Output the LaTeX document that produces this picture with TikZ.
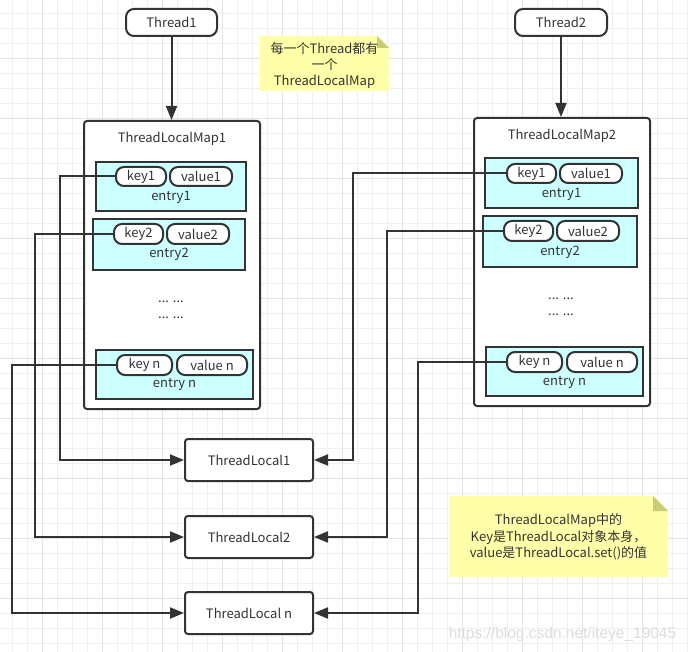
\documentclass[tikz,border=0pt]{standalone}
\usepackage{fontspec}
\setmainfont{Noto Sans CJK SC}
\newfontfamily\wmfont{Liberation Sans}
\usetikzlibrary{arrows.meta}
\definecolor{tlline}{HTML}{333333}
\definecolor{tlcyan}{HTML}{CCFFFF}
\definecolor{tlnote}{HTML}{FFFFAA}
\definecolor{tlfold}{HTML}{CCCC77}
\definecolor{tlgrid}{HTML}{EFEFEF}
\definecolor{tlgridb}{HTML}{E3E3E3}
\definecolor{tlwm}{HTML}{DDDDDD}

\begin{document}
\begin{tikzpicture}[x=1pt, y=-1pt,
  tltext/.style = {text=tlline, inner sep=0pt, font=\fontsize{13}{15}\selectfont},
  tlbox/.style = {tltext, draw=tlline, line width=2pt, fill=white, rounded corners=3pt},
  tlpill/.style = {tlbox, rounded corners=8pt},
  tlentry/.style = {draw=tlline, line width=2pt, fill=tlcyan, inner sep=0pt},
  tlarr/.style = {draw=tlline, line width=2pt, -{Triangle[length=14pt, width=11pt]}},
  tlgridline/.style = {tlgrid, line width=1pt}
]
  \useasboundingbox (0,0) rectangle (688,652);
  % grid
  \fill[white] (0,0) rectangle (688,652);
  \foreach \k in {0,...,45}
    \draw[tlgridline] (12.3+15*\k,0) -- (12.3+15*\k,652);
  \foreach \k in {0,...,42}
    \draw[tlgridline] (0,13.3+15*\k) -- (688,13.3+15*\k);
  \foreach \k in {0,...,10}
    \draw[tlgridline, tlgridb] (42.3+60*\k,0) -- (42.3+60*\k,652);
  \foreach \k in {0,...,9}
    \draw[tlgridline, tlgridb] (0,58.3+60*\k) -- (688,58.3+60*\k);

  % threads
  \node[tlpill, minimum width=91pt, minimum height=27pt] (thread1) at (171.5,22.5) {Thread1};
  \node[tlpill, minimum width=92pt, minimum height=27pt] (thread2) at (561,22.5) {Thread2};

  % ThreadLocalMap1
  \node[tlbox, minimum width=176pt, minimum height=288pt] (map1) at (172,265) {};
  \node[tltext] (map1title) at (172,138.5) {ThreadLocalMap1};
  \node[tlentry, minimum width=150pt, minimum height=49pt] (m1e1) at (171,186.5) {};
  \node[tlpill, minimum width=50pt, minimum height=19pt] (m1k1) at (141,176.5) {key1};
  \node[tlpill, minimum width=62pt, minimum height=19pt] (m1v1) at (201,176.5) {value1};
  \node[tltext] (m1e1lbl) at (171,197.5) {entry1};
  \node[tlentry, minimum width=152pt, minimum height=51pt] (m1e2) at (169,244.5) {};
  \node[tlpill, minimum width=49pt, minimum height=20pt] (m1k2) at (138.5,234) {key2};
  \node[tlpill, minimum width=62pt, minimum height=20pt] (m1v2) at (198,234) {value2};
  \node[tltext] (m1e2lbl) at (169,254.5) {entry2};
  \node[tltext, anchor=base] (m1dots1) at (171,303) {... ...};
  \node[tltext, anchor=base] (m1dots2) at (171,319) {... ...};
  \node[tlentry, minimum width=157pt, minimum height=49pt] (m1en) at (174.5,374.5) {};
  \node[tlpill, minimum width=55pt, minimum height=20pt] (m1kn) at (144.5,365) {key n};
  \node[tlpill, minimum width=70pt, minimum height=20pt] (m1vn) at (212,365) {value n};
  \node[tltext] (m1enlbl) at (174.5,384.5) {entry n};

  % ThreadLocalMap2
  \node[tlbox, minimum width=176pt, minimum height=288pt] (map2) at (562,262) {};
  \node[tltext] (map2title) at (562,135.5) {ThreadLocalMap2};
  \node[tlentry, minimum width=153pt, minimum height=50pt] (m2e1) at (561.5,183) {};
  \node[tlpill, minimum width=49pt, minimum height=19pt] (m2k1) at (531.5,173.5) {key1};
  \node[tlpill, minimum width=62pt, minimum height=19pt] (m2v1) at (591,173.5) {value1};
  \node[tltext] (m2e1lbl) at (561.5,194.5) {entry1};
  \node[tlentry, minimum width=154pt, minimum height=51pt] (m2e2) at (560,241.5) {};
  \node[tlpill, minimum width=49pt, minimum height=20pt] (m2k2) at (528.5,231) {key2};
  \node[tlpill, minimum width=62pt, minimum height=20pt] (m2v2) at (588,231) {value2};
  \node[tltext] (m2e2lbl) at (560,252.5) {entry2};
  \node[tltext, anchor=base] (m2dots1) at (561,300) {... ...};
  \node[tltext, anchor=base] (m2dots2) at (561,316) {... ...};
  \node[tlentry, minimum width=157pt, minimum height=49pt] (m2en) at (564.5,371.5) {};
  \node[tlpill, minimum width=55pt, minimum height=20pt] (m2kn) at (534.5,362) {key n};
  \node[tlpill, minimum width=70pt, minimum height=20pt] (m2vn) at (602,362) {value n};
  \node[tltext] (m2enlbl) at (564.5,382.5) {entry n};

  % ThreadLocal objects
  \node[tlbox, minimum width=128pt, minimum height=42pt] (tl1) at (249,460) {ThreadLocal1};
  \node[tlbox, minimum width=128pt, minimum height=42pt] (tl2) at (249,537) {ThreadLocal2};
  \node[tlbox, minimum width=128pt, minimum height=42pt] (tln) at (249,613) {ThreadLocal n};

  % arrows
  \draw[tlarr] (thread1.south) -- (thread1.south |- map1.north);
  \draw[tlarr] (thread2.south) -- (thread2.south |- map2.north);
  \draw[tlarr] (m1k1.west) -- ++(-55,0) |- (tl1.west);
  \draw[tlarr] (m1k2.west) -- ++(-78,0) |- (tl2.west);
  \draw[tlarr] (m1kn.west) -- ++(-104,0) |- (tln.west);
  \draw[tlarr] (m2k1.west) -- ++(-153,0) |- (tl1.east);
  \draw[tlarr] (m2k2.west) -- ++(-116,0) |- (tl2.east);
  \draw[tlarr] (m2kn.west) -- ++(-88,0) |- (tln.east);

  % notes
  \fill[tlnote] (260,36) -- (377,36) -- (389,48) -- (389,91) -- (260,91) -- cycle;
  \fill[tlfold] (377,36) -- (389,48) -- (377,48) -- cycle;
  \node[tltext, align=center, font=\fontsize{13}{16}\selectfont] (note1) at (324.5,65)
    {每一个Thread都有\\一个\\ThreadLocalMap};
  \fill[tlnote] (449,496) -- (653,496) -- (668,511) -- (668,577) -- (449,577) -- cycle;
  \fill[tlfold] (653,496) -- (668,511) -- (653,511) -- cycle;
  \node[tltext, align=center, font=\fontsize{13}{16.5}\selectfont] (note2) at (558.5,537)
    {ThreadLocalMap中的\\Key是ThreadLocal对象本身，\\value是ThreadLocal.set()的值};

  % watermark
  \node[inner sep=0pt, text=tlwm, font=\wmfont\fontsize{15.5}{18}\selectfont] (wm) at (562.5,634)
    {https://blog.csdn.net/iteye\_19045};
\end{tikzpicture}
\end{document}
